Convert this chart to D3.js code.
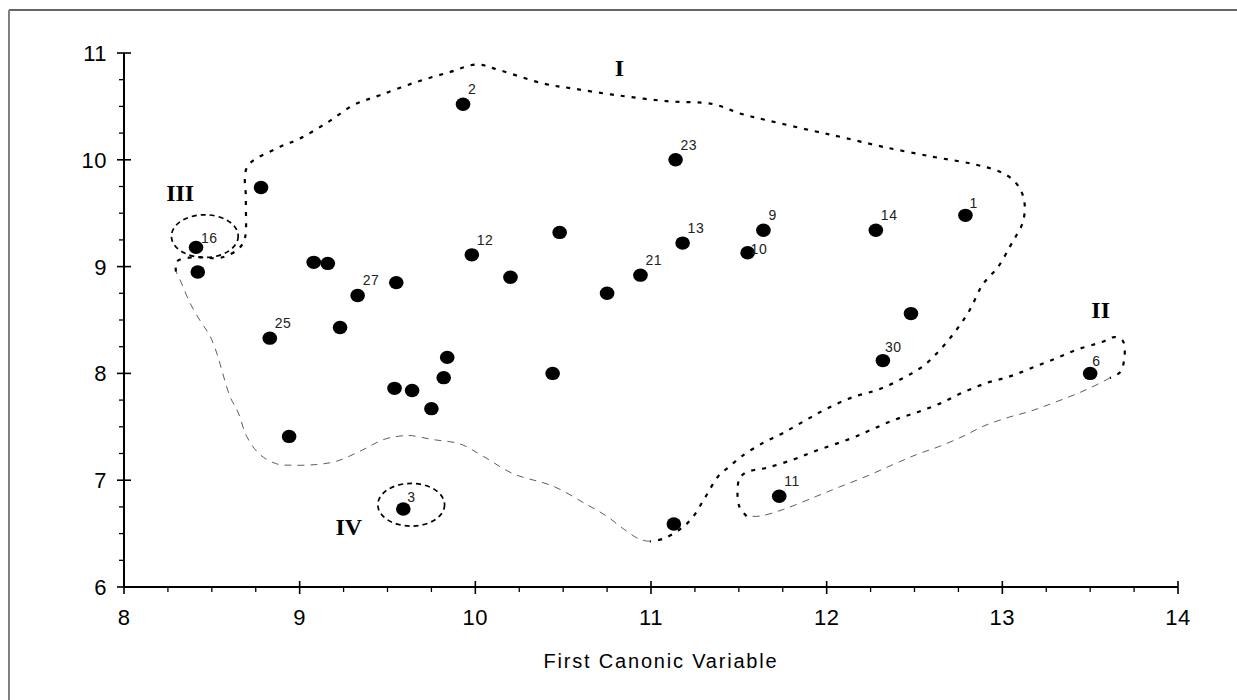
<!DOCTYPE html>
<html>
<head>
<meta charset="utf-8">
<script src="https://cdn.jsdelivr.net/npm/d3@7"></script>
<style>
  body { margin: 0; background: #fff; }
  svg { display: block; }
</style>
</head>
<body>
<svg id="chart" width="1237" height="700"></svg>
<script>
// ---- data ----
const pointX = [8.78, 8.41, 8.42, 9.08, 9.16, 9.55, 9.33, 8.83, 9.23, 9.54, 9.64, 8.94, 9.59,
  9.84, 9.82, 9.75, 10.44, 10.75, 11.13, 11.73, 9.93, 11.14, 9.98, 10.20, 10.48, 10.94,
  11.18, 11.64, 11.55, 12.28, 12.79, 12.48, 12.32, 13.50];
const pointY = [9.74, 9.18, 8.95, 9.04, 9.03, 8.85, 8.73, 8.33, 8.43, 7.86, 7.84, 7.41, 6.73,
  8.15, 7.96, 7.67, 8.00, 8.75, 6.59, 6.85, 10.52, 10.00, 9.11, 8.90, 9.32, 8.92,
  9.22, 9.34, 9.13, 9.34, 9.48, 8.56, 8.12, 8.00];
const pointLabels = ["", "16", "", "", "", "", "27", "25", "", "", "", "", "3",
  "", "", "", "", "", "", "11", "2", "23", "12", "", "", "21",
  "13", "9", "10", "14", "1", "", "30", "6"];

const xTicks = [8, 9, 10, 11, 12, 13, 14];
const yTicks = [6, 7, 8, 9, 10, 11];
const xTitle = "First Canonic Variable";

// group names and where they sit (data units, baseline)
const groupNames = ["I", "II", "III", "IV"];
const groupX = [10.82, 13.56, 8.32, 9.28];
const groupY = [10.78, 8.52, 9.61, 6.49];

// group I outline, heavy dotted part then light dashed part
const groupIHeavy = [
  [8.296, 8.953], [8.30, 9.047], [8.394, 9.088], [8.528, 9.079], [8.585, 9.10], [8.656, 9.172],
  [8.688, 9.265], [8.694, 9.62], [8.702, 9.935], [8.869, 10.107], [9.002, 10.20], [9.163, 10.355],
  [9.305, 10.511], [9.457, 10.605], [9.666, 10.729], [9.855, 10.822], [10.007, 10.892],
  [10.14, 10.838], [10.386, 10.714], [10.557, 10.667], [10.804, 10.605], [11.089, 10.549],
  [11.354, 10.521], [11.506, 10.434], [11.658, 10.371], [11.923, 10.271], [12.094, 10.209],
  [12.322, 10.121], [12.606, 10.028], [12.834, 9.96], [12.986, 9.888], [13.062, 9.81],
  [13.109, 9.701], [13.128, 9.561], [13.115, 9.406], [13.081, 9.296], [13.043, 9.187],
  [12.977, 9.0], [12.887, 8.829], [12.815, 8.595], [12.739, 8.408], [12.654, 8.237],
  [12.559, 8.081], [12.436, 7.957], [12.293, 7.848], [12.151, 7.779], [12.009, 7.677],
  [11.886, 7.567], [11.753, 7.443], [11.639, 7.35], [11.516, 7.224], [11.449, 7.131],
  [11.383, 7.037], [11.307, 6.835], [11.231, 6.639], [11.164, 6.539], [11.07, 6.452],
  [10.994, 6.427]
];
const groupILight = [
  [10.994, 6.427], [10.937, 6.446], [10.861, 6.523], [10.747, 6.664], [10.633, 6.773],
  [10.443, 6.944], [10.216, 7.06], [10.045, 7.224], [9.912, 7.34], [9.76, 7.38], [9.628, 7.418],
  [9.561, 7.411], [9.476, 7.38], [9.343, 7.271], [9.211, 7.178], [9.097, 7.147], [8.964, 7.14],
  [8.869, 7.153], [8.774, 7.24], [8.698, 7.411], [8.651, 7.63], [8.603, 7.785], [8.556, 8.035],
  [8.528, 8.191], [8.486, 8.362], [8.442, 8.471], [8.376, 8.658], [8.319, 8.876], [8.296, 8.953]
];

// group II outline
const groupIIHeavy = [
  [11.544, 6.664], [11.502, 6.757], [11.502, 7.008], [11.544, 7.075], [11.658, 7.116],
  [11.809, 7.193], [11.943, 7.278], [12.132, 7.387], [12.256, 7.474], [12.388, 7.567],
  [12.521, 7.639], [12.644, 7.717], [12.777, 7.822], [12.91, 7.91], [13.043, 7.972],
  [13.166, 8.05], [13.299, 8.137], [13.422, 8.221], [13.565, 8.293], [13.64, 8.34],
  [13.688, 8.299], [13.692, 8.112], [13.669, 8.009], [13.612, 7.957]
];
const groupIILight = [
  [13.612, 7.957], [13.479, 7.848], [13.289, 7.723], [13.157, 7.645], [13.024, 7.583],
  [12.891, 7.505], [12.777, 7.411], [12.644, 7.318], [12.512, 7.24], [12.379, 7.147],
  [12.227, 7.037], [12.075, 6.938], [11.943, 6.85], [11.753, 6.726], [11.62, 6.664],
  [11.544, 6.664]
];

// small rings around groups III and IV: centre x, centre y, half width, half height
const ringCx = [8.46, 9.635];
const ringCy = [9.285, 6.77];
const ringRx = [0.19, 0.19];
const ringRy = [0.2, 0.2];

// ---- chart ----
const svg = d3.select("#chart");
const width = 1237, height = 700;
const marginLeft = 124, marginRight = 59, marginTop = 53, marginBottom = 113;

svg.append("rect").attr("width", width).attr("height", height).attr("fill", "#fff");

// frame lines (top and left only are visible)
svg.append("line").attr("x1", 9).attr("x2", width).attr("y1", 10).attr("y2", 10)
  .attr("stroke", "#333").attr("stroke-width", 1.5);
svg.append("line").attr("x1", 9).attr("x2", 9).attr("y1", 10).attr("y2", height)
  .attr("stroke", "#808080").attr("stroke-width", 2);

const x = d3.scaleLinear().domain([8, 14]).range([marginLeft, width - marginRight]);
const y = d3.scaleLinear().domain([6, 11]).range([height - marginBottom, marginTop]);

const font = "'Liberation Sans', Arial, sans-serif";

// x axis
const xMinor = d3.range(8, 14.001, 0.25).filter(v => !xTicks.includes(v));
const gx = svg.append("g").attr("transform", `translate(0,${y(6)})`);
gx.append("line").attr("x1", x(8)).attr("x2", x(14)).attr("stroke", "#000").attr("stroke-width", 2);
gx.selectAll(".maj").data(xTicks).join("line").attr("class", "maj")
  .attr("x1", d => x(d)).attr("x2", d => x(d)).attr("y1", -6).attr("y2", 7)
  .attr("stroke", "#000").attr("stroke-width", 1.6);
gx.selectAll(".min").data(xMinor).join("line").attr("class", "min")
  .attr("x1", d => x(d)).attr("x2", d => x(d)).attr("y1", 0).attr("y2", 5)
  .attr("stroke", "#000").attr("stroke-width", 1.3);
gx.selectAll("text").data(xTicks).join("text")
  .attr("x", d => x(d)).attr("y", 38)
  .attr("text-anchor", "middle")
  .style("font-family", font).style("font-size", "22px").style("letter-spacing", "0.5px")
  .text(d => d);

// y axis
const yMinor = d3.range(6, 11.001, 0.25).filter(v => !yTicks.includes(v));
const gy = svg.append("g").attr("transform", `translate(${x(8)},0)`);
gy.append("line").attr("y1", y(6)).attr("y2", y(11)).attr("stroke", "#000").attr("stroke-width", 2);
gy.selectAll(".maj").data(yTicks).join("line").attr("class", "maj")
  .attr("y1", d => y(d)).attr("y2", d => y(d)).attr("x1", -7).attr("x2", 7)
  .attr("stroke", "#000").attr("stroke-width", 1.6);
gy.selectAll(".min").data(yMinor).join("line").attr("class", "min")
  .attr("y1", d => y(d)).attr("y2", d => y(d)).attr("x1", -5).attr("x2", 0)
  .attr("stroke", "#000").attr("stroke-width", 1.3);
gy.selectAll("text").data(yTicks).join("text")
  .attr("x", -17).attr("y", d => y(d) + 8)
  .attr("text-anchor", "end")
  .style("font-family", font).style("font-size", "22px").style("letter-spacing", "0.5px")
  .text(d => d);

// axis title
svg.append("text")
  .attr("x", (x(8) + x(14)) / 2 + 10).attr("y", 668)
  .attr("text-anchor", "middle")
  .style("font-family", font).style("font-size", "20px").style("letter-spacing", "1.8px")
  .text(xTitle);

// outlines
const line = d3.line().x(d => x(d[0])).y(d => y(d[1])).curve(d3.curveCatmullRom.alpha(0.5));
const heavy = { stroke: "#000", width: 2.2, dash: "4,7" };
const light = { stroke: "#333", width: 0.8, dash: "7,6" };
[[groupIHeavy, heavy], [groupILight, light], [groupIIHeavy, heavy], [groupIILight, light]]
  .forEach(([pts, st]) => {
    svg.append("path").attr("d", line(pts))
      .attr("fill", "none").attr("stroke", st.stroke)
      .attr("stroke-width", st.width).attr("stroke-dasharray", st.dash);
  });

svg.selectAll(".ring").data(ringCx).join("ellipse").attr("class", "ring")
  .attr("cx", d => x(d)).attr("cy", (d, i) => y(ringCy[i]))
  .attr("rx", (d, i) => x(d + ringRx[i]) - x(d))
  .attr("ry", (d, i) => y(ringCy[i]) - y(ringCy[i] + ringRy[i]))
  .attr("fill", "none").attr("stroke", "#000").attr("stroke-width", 1.7)
  .attr("stroke-dasharray", "5,4");

// points
const pts = pointX.map((v, i) => ({ x: v, y: pointY[i], label: pointLabels[i] }));
svg.selectAll(".pt").data(pts).join("ellipse").attr("class", "pt")
  .attr("cx", d => x(d.x)).attr("cy", d => y(d.y))
  .attr("rx", 7.3).attr("ry", 6.7).attr("fill", "#000");

// point labels, a couple sit in other spots
const labelShift = { "10": [3, 1], "16": [5, -4], "30": [2, -9], "6": [2, -7], "1": [4, -7], "3": [4, -7] };
svg.selectAll(".lab").data(pts.filter(d => d.label)).join("text").attr("class", "lab")
  .attr("x", d => x(d.x) + (labelShift[d.label] || [5, -10])[0])
  .attr("y", d => y(d.y) + (labelShift[d.label] || [5, -10])[1])
  .style("font-family", font).style("font-size", "14px").style("letter-spacing", "0.5px")
  .attr("fill", "#222")
  .text(d => d.label);

// group names
svg.selectAll(".grp").data(groupNames).join("text").attr("class", "grp")
  .attr("x", (d, i) => x(groupX[i])).attr("y", (d, i) => y(groupY[i]))
  .attr("text-anchor", "middle")
  .style("font-family", "'Liberation Serif', 'Times New Roman', serif")
  .style("font-size", "24px").style("font-weight", "bold")
  .text(d => d);
</script>
</body>
</html>
